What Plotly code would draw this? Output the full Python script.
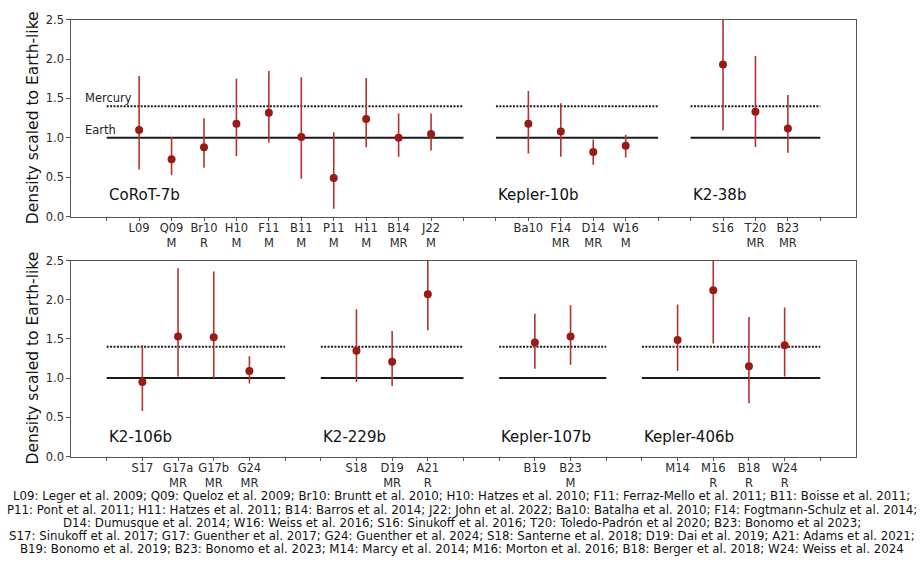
import plotly.graph_objects as go

# ---- data -------------------------------------------------------------
# Panel 1 planets and their literature estimates
top_planets = ["CoRoT-7b", "Kepler-10b", "K2-38b"]
top_refs = [
    ["L09", "Q09", "Br10", "H10", "F11", "B11", "P11", "H11", "B14", "J22"],
    ["Ba10", "F14", "D14", "W16"],
    ["S16", "T20", "B23"],
]
top_methods = [
    ["", "M", "R", "M", "M", "M", "M", "M", "MR", "M"],
    ["", "MR", "MR", "M"],
    ["", "MR", "MR"],
]
top_density = [
    [1.10, 0.73, 0.88, 1.18, 1.32, 1.01, 0.49, 1.24, 1.00, 1.05],
    [1.18, 1.08, 0.82, 0.90],
    [1.93, 1.33, 1.12],
]
top_low = [
    [0.60, 0.53, 0.62, 0.77, 0.94, 0.48, 0.10, 0.88, 0.76, 0.84],
    [0.80, 0.76, 0.66, 0.75],
    [1.095, 0.885, 0.81],
]
top_high = [
    [1.785, 1.01, 1.25, 1.75, 1.85, 1.77, 1.07, 1.76, 1.31, 1.31],
    [1.595, 1.44, 0.98, 1.04],
    [2.77, 2.04, 1.545],
]

# Panel 2 planets and their literature estimates
bot_planets = ["K2-106b", "K2-229b", "Kepler-107b", "Kepler-406b"]
bot_refs = [
    ["S17", "G17a", "G17b", "G24"],
    ["S18", "D19", "A21"],
    ["B19", "B23"],
    ["M14", "M16", "B18", "W24"],
]
bot_methods = [
    ["", "MR", "MR", "MR"],
    ["", "MR", "R"],
    ["", "M"],
    ["", "R", "R", "R"],
]
bot_density = [
    [0.95, 1.53, 1.52, 1.09],
    [1.35, 1.21, 2.07],
    [1.455, 1.53],
    [1.485, 2.12, 1.15, 1.42],
]
bot_low = [
    [0.58, 1.02, 1.00, 0.93],
    [0.95, 0.90, 1.61],
    [1.12, 1.17],
    [1.09, 1.44, 0.68, 1.02],
]
bot_high = [
    [1.42, 2.40, 2.36, 1.28],
    [1.88, 1.60, 2.55],
    [1.82, 1.93],
    [1.94, 2.80, 1.78, 1.90],
]

earth_density = 1.0
mercury_density = 1.4

footer_lines = [
    "L09: Leger et al. 2009; Q09: Queloz et al. 2009; Br10: Bruntt et al. 2010; H10: Hatzes et al. 2010; F11: Ferraz-Mello et al. 2011; B11: Boisse et al. 2011;",
    "P11: Pont et al. 2011; H11: Hatzes et al. 2011; B14: Barros et al. 2014; J22: John et al. 2022; Ba10: Batalha et al. 2010; F14: Fogtmann-Schulz et al. 2014;",
    "D14: Dumusque et al. 2014; W16: Weiss et al. 2016; S16: Sinukoff et al. 2016; T20: Toledo-Padrón et al 2020; B23: Bonomo et al 2023;",
    "S17: Sinukoff et al. 2017; G17: Guenther et al. 2017; G24: Guenther et al. 2024; S18: Santerne et al. 2018; D19: Dai et al. 2019; A21: Adams et al. 2021;",
    "B19: Bonomo et al. 2019; B23: Bonomo et al. 2023; M14: Marcy et al. 2014; M16: Morton et al. 2016; B18: Berger et al. 2018; W24: Weiss et al. 2024",
]

# ---- style ------------------------------------------------------------
FONT = "DejaVu Sans"
MARKER_COLOR = "#981b17"
ERR_COLOR = "#b3332d"
SPINE = "#555555"
TICK_FONT = dict(family=FONT, size=11.5, color="#2a2a2a")
W, H = 923, 562

fig = go.Figure()


def add_panel(planets, refs, methods, dens, low, high, xaxis, yaxis, label_y):
    tickvals, ticktext = [], []
    start = 0
    xmax = 0
    for i, name in enumerate(planets):
        n = len(refs[i])
        xs = [start + k + 1 for k in range(n)]
        end = start + n + 1
        xmax = end
        # reference density lines for each planet group
        fig.add_trace(go.Scatter(
            x=[start, end], y=[earth_density, earth_density], mode="lines",
            line=dict(color="#1a1a1a", width=2), xaxis=xaxis, yaxis=yaxis,
            hoverinfo="skip", showlegend=False))
        fig.add_trace(go.Scatter(
            x=[start, end], y=[mercury_density, mercury_density], mode="lines",
            line=dict(color="#1a1a1a", width=2, dash="2px,1.4px"),
            xaxis=xaxis, yaxis=yaxis, hoverinfo="skip", showlegend=False))
        # density estimates with uncertainty ranges
        fig.add_trace(go.Scatter(
            x=xs, y=dens[i], mode="markers",
            marker=dict(color=MARKER_COLOR, size=8),
            error_y=dict(type="data", symmetric=False,
                         array=[h - d for h, d in zip(high[i], dens[i])],
                         arrayminus=[d - l for d, l in zip(dens[i], low[i])],
                         color=ERR_COLOR, thickness=1.6, width=0),
            xaxis=xaxis, yaxis=yaxis, showlegend=False))
        tickvals.append(start)
        ticktext.append("")
        for x, r, m in zip(xs, refs[i], methods[i]):
            tickvals.append(x)
            # reference tag, with the method code on a second line
            ticktext.append(r + "<br>" + m if m else r)
        tickvals.append(end)
        ticktext.append("")
        fig.add_annotation(
            x=start, y=label_y, xref=xaxis, yref=yaxis, text=name,
            showarrow=False, xanchor="left", yanchor="middle",
            font=dict(family=FONT, size=15, color="#111111"))
        start = end + 1
    pad = 0.05 * xmax
    return tickvals, ticktext, [-pad, xmax + pad]


tv1, tt1, xr1 = add_panel(top_planets, top_refs, top_methods, top_density,
                          top_low, top_high, "x", "y", 0.27)
tv2, tt2, xr2 = add_panel(bot_planets, bot_refs, bot_methods, bot_density,
                          bot_low, bot_high, "x2", "y2", 0.25)

# Earth / Mercury labels on the first panel
fig.add_annotation(x=xr1[0] + 0.37, y=1.50, xref="x", yref="y", text="Mercury",
                   showarrow=False, xanchor="left", yanchor="middle",
                   font=dict(family=FONT, size=11.5, color="#222222"))
fig.add_annotation(x=xr1[0] + 0.37, y=1.095, xref="x", yref="y", text="Earth",
                   showarrow=False, xanchor="left", yanchor="middle",
                   font=dict(family=FONT, size=11.5, color="#222222"))

x_dom = [71 / W, 856 / W]
top_dom = [1 - 215 / H, 1 - 13 / H]
bot_dom = [1 - 461 / H, 1 - 260 / H]

axis_common = dict(showline=True, linecolor=SPINE, linewidth=1.3, mirror=True,
                   ticks="outside", ticklen=3.5, tickcolor=SPINE, tickwidth=1,
                   showgrid=False, zeroline=False, tickfont=TICK_FONT)

yvals = [0.0, 0.5, 1.0, 1.5, 2.0, 2.5]

fig.update_layout(
    width=W, height=H, margin=dict(l=0, r=0, t=0, b=0),
    paper_bgcolor="white", plot_bgcolor="white", showlegend=False,
    xaxis=dict(domain=x_dom, range=xr1, anchor="y", tickmode="array",
               tickvals=tv1, ticktext=tt1, ticklabelstandoff=-3, **axis_common),
    yaxis=dict(domain=top_dom, range=[0, 2.5], anchor="x", tickmode="array",
               tickvals=yvals, ticktext=[f"{v:.1f}" for v in yvals], **axis_common),
    xaxis2=dict(domain=x_dom, range=xr2, anchor="y2", tickmode="array",
                tickvals=tv2, ticktext=tt2, ticklabelstandoff=-3, **axis_common),
    yaxis2=dict(domain=bot_dom, range=[0, 2.5], anchor="x2", tickmode="array",
                tickvals=yvals, ticktext=[f"{v:.1f}" for v in yvals], **axis_common),
)

# y-axis titles
for dom in (top_dom, bot_dom):
    fig.add_annotation(x=33 / W, y=(dom[0] + dom[1]) / 2, xref="paper", yref="paper",
                       text="Density scaled to Earth-like", textangle=-90,
                       showarrow=False, xanchor="center", yanchor="middle",
                       font=dict(family=FONT, size=15.5, color="#111111"))

# reference key below the panels
for i, line in enumerate(footer_lines):
    fig.add_annotation(x=0.5, y=1 - (502 + 13.5 * i) / H, xref="paper", yref="paper",
                       text=line, showarrow=False, xanchor="center", yanchor="middle",
                       font=dict(family=FONT, size=11.8, color="#111111"))

fig.write_html("out.html")
